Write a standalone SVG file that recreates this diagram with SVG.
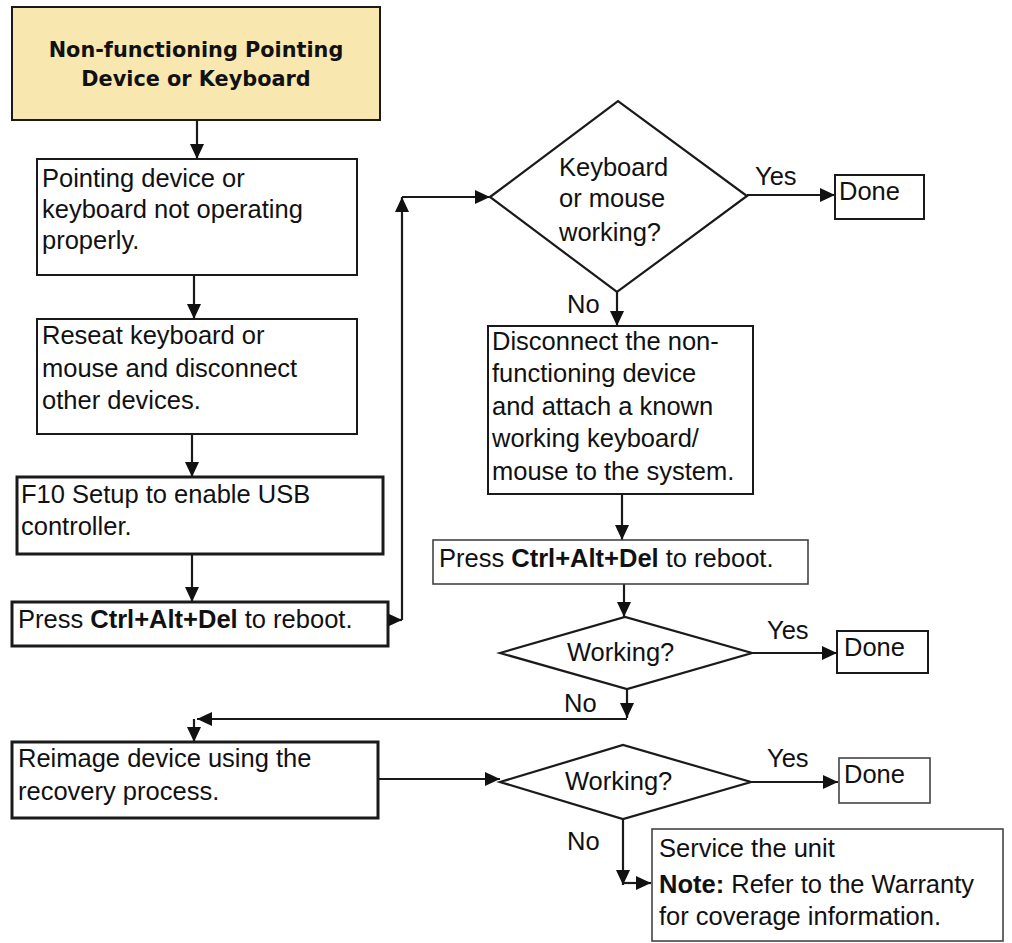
<svg xmlns="http://www.w3.org/2000/svg" width="1012" height="943" viewBox="0 0 1012 943">
  <style>
    .box { fill: #ffffff; stroke: #1a1a1a; stroke-width: 2; }
    .thick { stroke-width: 3; }
    .light { stroke: #444; stroke-width: 1.6; }
    .title { fill: #f9e7b0; stroke: #1a1a1a; stroke-width: 2; }
    .dia { fill: #ffffff; stroke: #1a1a1a; stroke-width: 2.2; }
    .t { font-family: "Liberation Sans", Arial, sans-serif; font-size: 25.5px; fill: #111; }
    .hd { font-family: "DejaVu Sans", Verdana, sans-serif; font-size: 20.8px; font-weight: bold; fill: #111; text-anchor: middle; }
    .b { font-weight: bold; }
    .wire { fill: none; stroke: #1a1a1a; stroke-width: 2.2; }
  </style>
  <defs>
    <marker id="ah" viewBox="0 0 15 14" refX="15" refY="7" markerWidth="15" markerHeight="14" markerUnits="userSpaceOnUse" orient="auto">
      <path d="M0,0 L15,7 L0,14 z" fill="#111"/>
    </marker>
  </defs>

  <rect width="1012" height="943" fill="#ffffff"/>

  <!-- connectors -->
  <g id="connectors" class="wire">
    <path d="M197,120 V159" marker-end="url(#ah)"/>
    <path d="M194,275 V319" marker-end="url(#ah)"/>
    <path d="M192,434 V477" marker-end="url(#ah)"/>
    <path d="M192,554 V602" marker-end="url(#ah)"/>
    <path d="M388,620 H402" marker-end="url(#ah)"/>
    <path d="M402,620 V197" marker-end="url(#ah)"/>
    <path d="M402,197 H490" marker-end="url(#ah)"/>
    <path d="M747,195 H835" marker-end="url(#ah)"/>
    <path d="M617,292 V326" marker-end="url(#ah)"/>
    <path d="M622,494 V540" marker-end="url(#ah)"/>
    <path d="M624,584 V617" marker-end="url(#ah)"/>
    <path d="M752,653 H837" marker-end="url(#ah)"/>
    <path d="M627,689 V718" marker-end="url(#ah)"/>
    <path d="M627,719 H197" marker-end="url(#ah)"/>
    <path d="M194,719 V742" marker-end="url(#ah)"/>
    <path d="M378,779 H500" marker-end="url(#ah)"/>
    <path d="M751,782 H838" marker-end="url(#ah)"/>
    <path d="M623,819 V885" marker-end="url(#ah)"/>
    <path d="M623,883 H651" marker-end="url(#ah)"/>
  </g>

  <!-- connector labels -->
  <g id="labels" class="t">
    <text x="755" y="185">Yes</text>
    <text x="567" y="313">No</text>
    <text x="767" y="639">Yes</text>
    <text x="564" y="712">No</text>
    <text x="767" y="767">Yes</text>
    <text x="567" y="850">No</text>
  </g>

  <g id="start">
    <rect class="title" x="12" y="7" width="368" height="113"/>
    <text class="hd" x="196" y="57">Non-functioning Pointing</text>
    <text class="hd" x="196" y="86">Device or Keyboard</text>
  </g>

  <g id="not-operating">
    <rect class="box" x="37" y="159" width="320" height="116"/>
    <text class="t" x="42" y="187">Pointing device or</text>
    <text class="t" x="42" y="218">keyboard not operating</text>
    <text class="t" x="42" y="249">properly.</text>
  </g>

  <g id="reseat">
    <rect class="box" x="37" y="319" width="320" height="115"/>
    <text class="t" x="42" y="344">Reseat keyboard or</text>
    <text class="t" x="42" y="377">mouse and disconnect</text>
    <text class="t" x="42" y="409">other devices.</text>
  </g>

  <g id="f10-setup">
    <rect class="box thick" x="17" y="477" width="366" height="77"/>
    <text class="t" x="21" y="503">F10 Setup to enable USB</text>
    <text class="t" x="21" y="535">controller.</text>
  </g>

  <g id="reboot-1">
    <rect class="box thick" x="12" y="602" width="376" height="44"/>
    <text class="t" x="18" y="628">Press <tspan class="b">Ctrl+Alt+Del</tspan> to reboot.</text>
  </g>

  <g id="check-1">
    <polygon class="dia" points="490,197 618,101 747,196 617,292"/>
    <text class="t" x="559" y="176">Keyboard</text>
    <text class="t" x="559" y="207">or mouse</text>
    <text class="t" x="559" y="241">working?</text>
  </g>

  <g id="done-1">
    <rect class="box" x="835" y="175" width="89" height="44"/>
    <text class="t" x="839" y="200">Done</text>
  </g>

  <g id="swap-device">
    <rect class="box" x="488" y="326" width="265" height="168"/>
    <text class="t" x="492" y="350">Disconnect the non-</text>
    <text class="t" x="492" y="382">functioning device</text>
    <text class="t" x="492" y="415">and attach a known</text>
    <text class="t" x="492" y="447">working keyboard/</text>
    <text class="t" x="492" y="480">mouse to the system.</text>
  </g>

  <g id="reboot-2">
    <rect class="box light" x="433" y="540" width="375" height="44"/>
    <text class="t" x="439" y="567">Press <tspan class="b">Ctrl+Alt+Del</tspan> to reboot.</text>
  </g>

  <g id="check-2">
    <polygon class="dia" points="500,653 625,617 752,653 627,689"/>
    <text class="t" x="567" y="661">Working?</text>
  </g>

  <g id="done-2">
    <rect class="box" x="837" y="631" width="91" height="42"/>
    <text class="t" x="844" y="656">Done</text>
  </g>

  <g id="reimage">
    <rect class="box thick" x="12" y="742" width="366" height="76"/>
    <text class="t" x="18" y="767">Reimage device using the</text>
    <text class="t" x="18" y="800">recovery process.</text>
  </g>

  <g id="check-3">
    <polygon class="dia" points="500,782 623,745 751,782 623,819"/>
    <text class="t" x="565" y="790">Working?</text>
  </g>

  <g id="done-3">
    <rect class="box light" x="839" y="758" width="91" height="45"/>
    <text class="t" x="844" y="783">Done</text>
  </g>

  <g id="service">
    <rect class="box light" x="652" y="829" width="351" height="112"/>
    <text class="t" x="659" y="857">Service the unit</text>
    <text class="t" x="659" y="893"><tspan class="b">Note:</tspan> Refer to the Warranty</text>
    <text class="t" x="659" y="925">for coverage information.</text>
  </g>
</svg>
